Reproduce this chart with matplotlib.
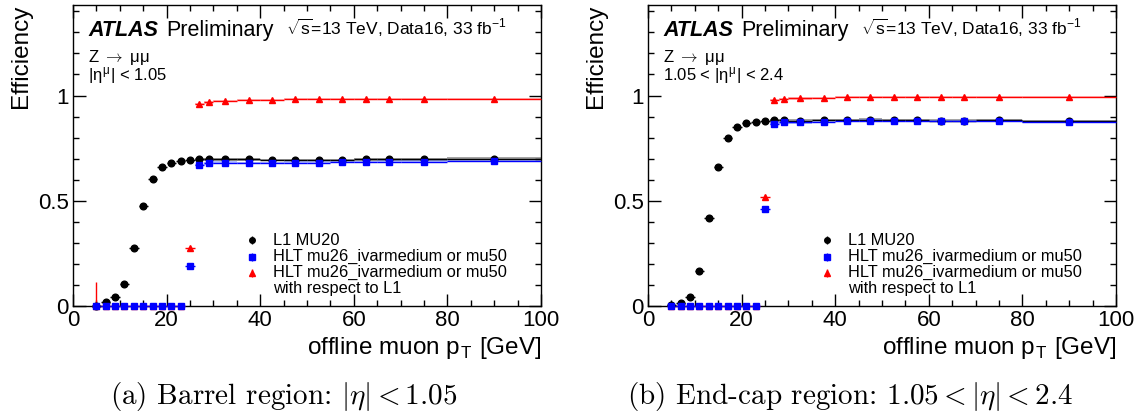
import matplotlib
matplotlib.use("Agg")
import matplotlib.pyplot as plt
from matplotlib.ticker import MultipleLocator
import numpy as np

plt.rcParams['font.family'] = ['Liberation Sans', 'DejaVu Sans']
plt.rcParams['mathtext.fontset'] = 'cm'

# bin centres and half widths of offline muon pT [GeV]
pt = [5, 7, 9, 11, 13, 15, 17, 19, 21, 23, 25, 27, 29,
      32.5, 37.5, 42.5, 47.5, 52.5, 57.5, 62.5, 67.5, 75, 90]
pt_hw = [1, 1, 1, 1, 1, 1, 1, 1, 1, 1, 1, 1, 1,
         2.5, 2.5, 2.5, 2.5, 2.5, 2.5, 2.5, 2.5, 5, 10]

# barrel |eta| < 1.05
bar_l1 = [0.0, 0.019, 0.041, 0.106, 0.274, 0.475, 0.602, 0.659, 0.681, 0.689, 0.693, 0.696, 0.697,
          0.697, 0.696, 0.694, 0.693, 0.693, 0.694, 0.696, 0.697, 0.697, 0.700]
bar_hlt = [0, 0, 0, 0, 0, 0, 0, 0, 0, 0, 0.190, 0.669, 0.678,
           0.681, 0.680, 0.680, 0.681, 0.681, 0.683, 0.685, 0.686, 0.686, 0.691]
bar_rel = [0, 0, 0, 0, 0, 0, 0, 0, 0, 0, 0.274, 0.959, 0.968,
           0.973, 0.978, 0.979, 0.983, 0.983, 0.983, 0.983, 0.984, 0.983, 0.984]
bar_rel_up5 = 0.116

# end-cap 1.05 < |eta| < 2.4
end_l1 = [0.003, 0.016, 0.044, 0.165, 0.417, 0.661, 0.799, 0.849, 0.870, 0.876, 0.881, 0.883, 0.883,
          0.881, 0.883, 0.884, 0.886, 0.884, 0.883, 0.881, 0.881, 0.883, 0.878]
end_hlt = [0, 0, 0, 0, 0, 0, 0, 0, 0, 0, 0.460, 0.867, 0.872,
           0.873, 0.875, 0.878, 0.881, 0.880, 0.880, 0.878, 0.878, 0.878, 0.875]
end_rel = [0, 0, 0, 0, 0, 0, 0, 0, 0, 0, 0.520, 0.979, 0.984,
           0.987, 0.989, 0.992, 0.994, 0.994, 0.994, 0.994, 0.994, 0.994, 0.994]
end_rel_up5 = 0.01

# small uncertainties
err_l1 = [0.002, 0.004, 0.005, 0.006, 0.006, 0.006, 0.005, 0.005, 0.004, 0.004, 0.004, 0.003, 0.003,
          0.003, 0.003, 0.003, 0.003, 0.003, 0.003, 0.003, 0.003, 0.003, 0.003]
err_hlt = [0.001] * 10 + [0.006, 0.004, 0.004, 0.003, 0.003, 0.003, 0.003, 0.003, 0.003, 0.003, 0.003, 0.003, 0.003]
err_rel = [0.0] * 10 + [0.008, 0.003, 0.003, 0.002, 0.002, 0.002, 0.002, 0.002, 0.002, 0.002, 0.002, 0.002, 0.002]
band = 0.006

labels = ['L1 MU20', 'HLT mu26_ivarmedium or mu50', 'HLT mu26_ivarmedium or mu50', 'with respect to L1']

W, H = 1147, 419
fig = plt.figure(figsize=(W / 100, H / 100), dpi=100)


def draw(rect, l1, hlt, rel, rel_up5, region_text, caption, cap_x):
    ax = fig.add_axes(rect)
    pt_a = np.array(pt)
    hw = np.array(pt_hw)
    series = [(rel, err_rel, 'red', '^', (1.0, 0.5, 0.5)),
              (l1, err_l1, 'black', 'o', (0.3, 0.3, 0.3)),
              (hlt, err_hlt, 'blue', 's', (0.4, 0.5, 1.0))]
    for vals, errs, col, mk, bcol in series:
        v = np.array(vals)
        e = np.array(errs)
        yerr = np.vstack([e, e])
        if col == 'red':
            yerr[1, 0] = rel_up5
        # shaded band on plateau bins
        for x, h, y in zip(pt_a, hw, v):
            if x > 26:
                ax.fill_between([x - h, x + h], y - band, y + band, color=bcol, alpha=0.5, lw=0)
        ax.errorbar(pt_a, v, xerr=hw, yerr=yerr, fmt=mk, color=col, ms=4.8, lw=1,
                    capsize=0, clip_on=False, zorder=3)
    ax.set_xlim(0, 100)
    ax.set_ylim(0, 1.43)
    ax.xaxis.set_major_locator(MultipleLocator(20))
    ax.xaxis.set_minor_locator(MultipleLocator(5))
    ax.yaxis.set_minor_locator(MultipleLocator(0.1))
    ax.set_yticks([0, 0.5, 1])
    ax.set_yticklabels(['0', '0.5', '1'])
    ax.tick_params(which='both', direction='in', top=True, right=True, labelsize=16, width=1)
    ax.tick_params(which='major', length=9, pad=3)
    ax.tick_params(which='minor', length=4.5)
    for s in ax.spines.values():
        s.set_linewidth(1)
    ax.set_xlabel(r'offline muon p$_\mathregular{T}$ [GeV]', fontsize=17.5, ha='right', x=1.0, labelpad=3)
    ax.set_ylabel('Efficiency', fontsize=17.5, ha='right', y=1.0, labelpad=4)

    ax.text(0.032, 0.898, 'ATLAS', transform=ax.transAxes, fontsize=15.5, fontweight='bold', fontstyle='italic')
    ax.text(0.2, 0.898, 'Preliminary', transform=ax.transAxes, fontsize=15.5)
    ax.text(0.928, 0.9, r'$\sqrt{\mathregular{s}}$=13 TeV, Data16, 33 fb$^{\mathregular{-1}}$',
            transform=ax.transAxes, fontsize=12.5, ha='right')
    ax.text(0.032, 0.826, r'Z $\rightarrow$ $\mathregular{\mu\mu}$', transform=ax.transAxes,
            fontsize=12, va='center')
    ax.text(0.032, 0.762, region_text, transform=ax.transAxes, fontsize=12, va='center')

    # legend
    lx = 0.383
    ys = [0.219, 0.164, 0.111, 0.059]
    for (vals, errs, col, mk, bcol), y in zip([series[1], series[2], series[0]], ys):
        ax.errorbar([lx], [y], yerr=[[0.013], [0.013]], fmt=mk, color=col, ms=4, lw=1, capsize=0,
                    transform=ax.transAxes, clip_on=False)
    for lab, y in zip(labels, ys):
        ax.text(0.428, y, lab, transform=ax.transAxes, fontsize=11.8, va='center')
    fig.text(cap_x, 0.053, caption, fontsize=21, ha='center', va='center', family='cmr10')
    return ax


draw([73 / W, 1 - 306 / H, 468 / W, 301 / H], bar_l1, bar_hlt, bar_rel, bar_rel_up5,
     '|\u03b7$^{\\mathregular{\u03bc}}$| < 1.05', r'(a) Barrel region: $|\eta| < 1.05$', 284 / W)
draw([648 / W, 1 - 306 / H, 468 / W, 301 / H], end_l1, end_hlt, end_rel, end_rel_up5,
     '1.05 < |\u03b7$^{\\mathregular{\u03bc}}$| < 2.4',
     r'(b) End-cap region: $1.05 < |\eta| < 2.4$', 850 / W)

fig.savefig('out.png', dpi=100)
